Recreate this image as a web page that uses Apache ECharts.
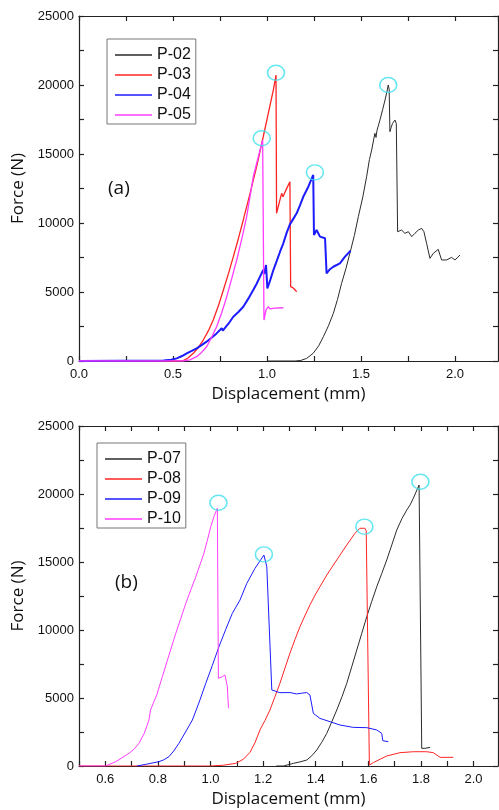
<!DOCTYPE html>
<html>
<head>
<meta charset="utf-8">
<script src="https://cdn.jsdelivr.net/npm/echarts@6/dist/echarts.min.js"></script>
<style>
html,body{margin:0;padding:0;background:#fff;}
#c{width:499px;height:810px;}
</style>
</head>
<body>
<div id="c"></div>
<script>
// ---- Panel (a) ----
const namesA = ['P-02', 'P-03', 'P-04', 'P-05'];
const p02 = [[1.0,0],[1.15,0],[1.18,40],[1.211,190],[1.246,560],[1.275,1100],[1.3,1760],[1.327,2550],[1.353,3450],[1.375,4450],[1.397,5630],[1.42,6700],[1.441,7800],[1.465,9100],[1.486,10460],[1.51,11900],[1.53,13350],[1.545,14600],[1.557,15290],[1.574,16500],[1.58,16200],[1.585,16700],[1.601,17460],[1.615,18200],[1.628,18910],[1.638,19500],[1.645,20000],[1.65,19700],[1.654,16620],[1.66,16900],[1.668,17220],[1.681,17460],[1.688,17200],[1.695,9370],[1.716,9490],[1.734,9250],[1.752,9370],[1.770,9010],[1.787,9250],[1.805,9490],[1.823,9610],[1.835,9370],[1.849,8530],[1.867,7440],[1.885,7800],[1.911,8090],[1.929,7320],[1.956,7320],[1.982,7510],[2.0,7320],[2.027,7680]];
const p03 = [[0,0],[0.5,0],[0.555,30],[0.58,220],[0.608,556],[0.635,980],[0.661,1520],[0.688,2180],[0.714,2970],[0.741,3980],[0.768,5145],[0.795,6330],[0.821,7560],[0.848,8880],[0.874,10220],[0.910,12150],[0.945,14080],[0.980,16250],[1.007,17950],[1.034,19640],[1.048,20720],[1.051,10700],[1.069,11670],[1.078,12150],[1.085,11900],[1.105,12510],[1.122,12990],[1.126,5385],[1.14,5290],[1.158,5020]];
const p04 = [[0,0],[0.45,30],[0.49,90],[0.52,190],[0.548,360],[0.573,556],[0.6,730],[0.626,918],[0.652,1150],[0.679,1400],[0.705,1690],[0.732,2000],[0.759,2370],[0.765,2200],[0.795,2700],[0.821,3210],[0.848,3550],[0.874,3930],[0.9,4500],[0.927,5145],[0.945,5600],[0.963,6110],[0.980,6590],[0.985,6300],[0.995,6960],[1.002,5265],[1.018,5900],[1.034,6590],[1.052,7250],[1.069,7900],[1.087,8530],[1.105,9300],[1.122,9900],[1.14,10300],[1.158,10700],[1.176,11300],[1.193,11900],[1.22,12630],[1.246,13480],[1.25,9130],[1.264,9490],[1.282,9010],[1.309,8890],[1.317,6350],[1.335,6650],[1.353,6830],[1.388,7080],[1.415,7560],[1.445,7990]];
const p05 = [[0,0],[0.55,0],[0.59,80],[0.626,315],[0.652,620],[0.679,1036],[0.705,1700],[0.732,2485],[0.759,3500],[0.786,4660],[0.812,5950],[0.839,7318],[0.866,8850],[0.892,10456],[0.927,13350],[0.954,14800],[0.977,16010],[0.984,2970],[0.995,3700],[1.007,3935],[1.016,3780],[1.04,3830],[1.087,3860]];
const peaksA = [[1.645,20000],[1.048,20890],[1.255,13670],[0.972,16140]];

// ---- Panel (b) ----
const namesB = ['P-07', 'P-08', 'P-09', 'P-10'];
const p07 = [[1.25,0],[1.277,0],[1.315,196],[1.34,300],[1.366,441],[1.385,750],[1.404,1176],[1.423,1750],[1.442,2400],[1.46,3200],[1.48,4118],[1.5,5100],[1.518,6080],[1.537,7300],[1.556,8530],[1.575,9750],[1.594,10980],[1.613,12100],[1.632,13180],[1.651,14150],[1.67,15150],[1.69,16300],[1.708,17350],[1.728,18200],[1.746,18820],[1.759,19200],[1.771,19680],[1.793,20660],[1.803,1300],[1.815,1300],[1.835,1370]];
const p08 = [[0.5,0],[1.0,0],[1.05,60],[1.096,196],[1.125,500],[1.15,1000],[1.17,1750],[1.188,2650],[1.207,3350],[1.226,4118],[1.245,5100],[1.264,6080],[1.283,7200],[1.302,8290],[1.321,9300],[1.34,10240],[1.36,11100],[1.378,11840],[1.397,12550],[1.416,13180],[1.442,14040],[1.48,15150],[1.518,16250],[1.549,17110],[1.568,17480],[1.587,17480],[1.592,17300],[1.604,73],[1.619,245],[1.645,500],[1.67,735],[1.72,980],[1.771,1050],[1.822,1050],[1.847,980],[1.873,637],[1.923,637]];
const p09 = [[0.72,0],[0.754,123],[0.804,320],[0.822,450],[0.842,686],[0.86,1100],[0.880,1670],[0.905,2500],[0.931,3380],[0.957,4700],[0.982,6080],[1.007,7400],[1.032,8770],[1.058,10050],[1.083,11230],[1.112,12200],[1.138,13430],[1.169,14530],[1.203,15510],[1.214,14650],[1.233,5590],[1.264,5390],[1.302,5400],[1.327,5300],[1.346,5350],[1.366,5400],[1.378,5220],[1.391,3870],[1.416,3500],[1.454,3260],[1.492,3015],[1.543,2840],[1.594,2820],[1.632,2650],[1.651,2400],[1.655,1860],[1.676,1790]];
const p10 = [[0.5,0],[0.601,0],[0.64,320],[0.69,930],[0.71,1250],[0.728,1670],[0.748,2400],[0.766,3380],[0.772,4118],[0.776,4000],[0.796,5250],[0.817,6570],[0.842,8150],[0.868,9756],[0.887,10850],[0.906,11960],[0.925,12950],[0.944,13920],[0.96,14800],[0.975,15640],[0.988,16600],[1.001,17600],[1.013,18330],[1.026,18950],[1.030,6450],[1.045,6570],[1.055,6690],[1.064,5830],[1.068,4360],[1.07,4240]];
const peaksB = [[1.03,19360],[1.203,15560],[1.585,17600],[1.798,20900]];

const xNameText = 'Displacement (mm)';
const yNameText = 'Force (N)';
const yTicks = {min: 0, max: 25000, interval: 2500};

const colors = ['#2b2b2b', '#ff2424', '#1c1cff', '#ff3cff'];
const widthsA = [1, 1.3, 2, 1.3];
const widthsB = [1, 1, 1, 1];
const circleColor = '#3ee0ee';

const axisLineStyle = {color: '#222', width: 1.2};
const labelFont = {fontFamily: 'Liberation Sans', fontSize: 13, color: '#111'};
const nameFont = {fontFamily: 'Open Sans', fontSize: 17, color: '#111'};

function xAxisMain(grid, min, max, interval, fmt) {
  return {
    type: 'value', gridIndex: grid, min: min, max: max, interval: interval, position: 'bottom',
    name: xNameText, nameLocation: 'middle', nameGap: 25, nameTextStyle: nameFont,
    axisLine: {show: true, lineStyle: axisLineStyle, onZero: false},
    axisTick: {show: true, inside: true, length: 5, lineStyle: axisLineStyle},
    axisLabel: Object.assign({margin: 7, formatter: fmt, showMaxLabel: false}, labelFont),
    splitLine: {show: false}
  };
}
function xAxisTop(grid, min, max, interval) {
  return {
    type: 'value', gridIndex: grid, min: min, max: max, interval: interval, position: 'top',
    axisLine: {show: true, lineStyle: axisLineStyle, onZero: false},
    axisTick: {show: true, inside: true, length: 5, lineStyle: axisLineStyle},
    axisLabel: {show: false}, splitLine: {show: false}
  };
}
function yAxisLeft(grid) {
  return {
    type: 'value', gridIndex: grid, min: yTicks.min, max: yTicks.max, interval: yTicks.interval, position: 'left',
    name: yNameText, nameLocation: 'middle', nameGap: 52, nameTextStyle: nameFont,
    axisLine: {show: true, lineStyle: axisLineStyle, onZero: false},
    axisTick: {show: true, inside: true, length: 5, lineStyle: axisLineStyle},
    axisLabel: Object.assign({margin: 5, formatter: v => (v % 5000 === 0 ? String(v) : '')}, labelFont),
    splitLine: {show: false}
  };
}
function yAxisRight(grid) {
  return {
    type: 'value', gridIndex: grid, min: yTicks.min, max: yTicks.max, interval: yTicks.interval, position: 'right',
    axisLine: {show: true, lineStyle: axisLineStyle, onZero: false},
    axisTick: {show: true, inside: true, length: 5, lineStyle: axisLineStyle},
    axisLabel: {show: false}, splitLine: {show: false}
  };
}

const fmtA = v => (Math.abs(v * 2 - Math.round(v * 2)) < 1e-6 ? v.toFixed(1) : '');
const fmtB = v => { const t = Math.round(v * 10); return (t % 2 === 0 && Math.abs(v * 10 - t) < 1e-6) ? v.toFixed(1) : ''; };

const series = [];
[p02, p03, p04, p05].forEach((d, i) => series.push({
  type: 'line', name: namesA[i], xAxisIndex: 0, yAxisIndex: 0, data: d,
  symbol: 'none', showSymbol: false, lineStyle: {color: colors[i], width: widthsA[i]}, itemStyle: {color: colors[i]}, z: 3
}));
series.push({
  type: 'scatter', xAxisIndex: 0, yAxisIndex: 0, data: peaksA, symbol: 'circle', symbolSize: [17, 15],
  itemStyle: {color: 'rgba(0,0,0,0)', borderColor: circleColor, borderWidth: 1.5}, z: 4, silent: true
});
[p07, p08, p09, p10].forEach((d, i) => series.push({
  type: 'line', name: namesB[i], xAxisIndex: 2, yAxisIndex: 2, data: d,
  symbol: 'none', showSymbol: false, lineStyle: {color: colors[i], width: widthsB[i]}, itemStyle: {color: colors[i]}, z: 3
}));
series.push({
  type: 'scatter', xAxisIndex: 2, yAxisIndex: 2, data: peaksB, symbol: 'circle', symbolSize: [17, 15],
  itemStyle: {color: 'rgba(0,0,0,0)', borderColor: circleColor, borderWidth: 1.5}, z: 4, silent: true
});

const legendCommon = {
  orient: 'vertical', icon: 'rect', itemWidth: 37, itemHeight: 1.5, itemGap: 4,
  borderColor: '#777', borderWidth: 1, padding: [8, 5, 1, 8],
  textStyle: {fontFamily: 'Liberation Sans', fontSize: 16, lineHeight: 16, color: '#111'},
  backgroundColor: '#fff'
};

const option = {
  animation: false,
  backgroundColor: '#fff',
  grid: [
    {left: 79, top: 16, width: 419, height: 345},
    {left: 79, top: 426, width: 419, height: 340}
  ],
  xAxis: [
    xAxisMain(0, 0, 2.229, 0.25, fmtA),
    xAxisTop(0, 0, 2.229, 0.25),
    xAxisMain(1, 0.5, 2.093, 0.1, fmtB),
    xAxisTop(1, 0.5, 2.093, 0.1)
  ],
  yAxis: [yAxisLeft(0), yAxisRight(0), yAxisLeft(1), yAxisRight(1)],
  legend: [
    Object.assign({data: namesA, left: 107, top: 39}, legendCommon),
    Object.assign({data: namesB, left: 97, top: 443}, legendCommon)
  ],
  graphic: [
    {type: 'text', left: 108, top: 179, style: {text: '(a)', fontFamily: 'Open Sans', fontSize: 19, fill: '#111'}},
    {type: 'text', left: 115, top: 573, style: {text: '(b)', fontFamily: 'Open Sans', fontSize: 19, fill: '#111'}}
  ],
  series: series
};

const chart = echarts.init(document.getElementById('c'), null, {renderer: 'canvas'});
chart.setOption(option);
</script>
</body>
</html>
